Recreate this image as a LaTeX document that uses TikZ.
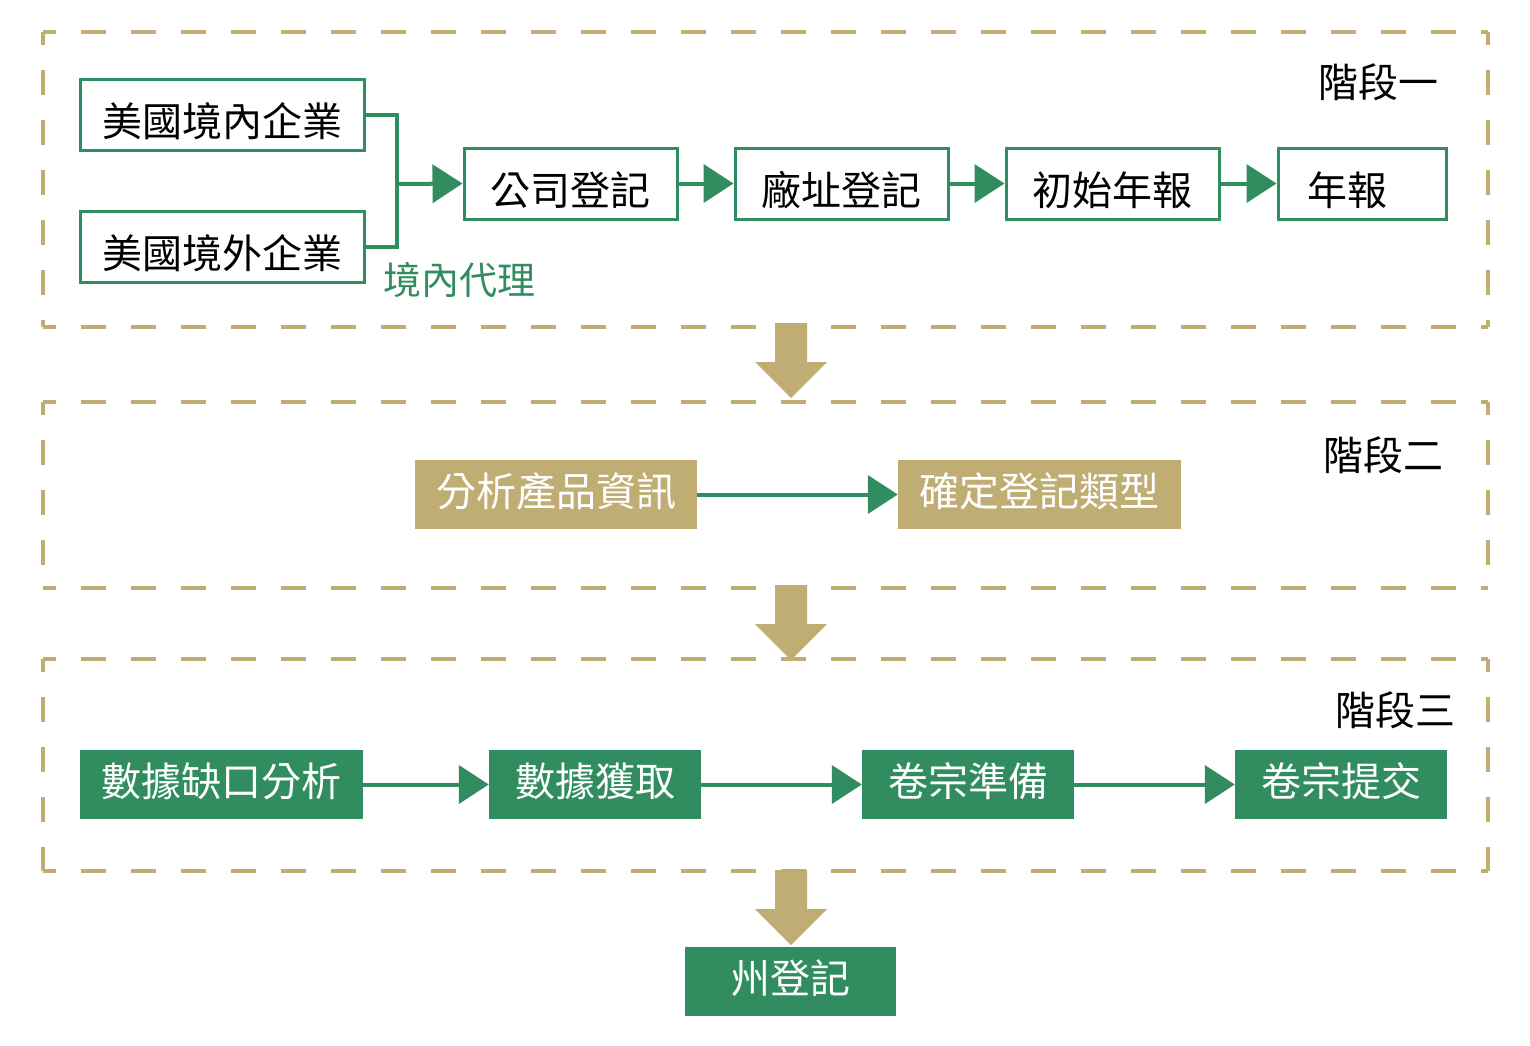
\documentclass[tikz,border=0pt]{standalone}
\usepackage{fontspec}
\setmainfont{Noto Sans CJK TC}
\usetikzlibrary{arrows.meta}
\definecolor{grn}{RGB}{49,141,95}
\definecolor{gold}{RGB}{191,173,116}
\newcommand{\lowtext}[1]{\raisebox{-7pt}[\height][\depth]{#1}}
\newcommand{\hightext}[1]{\raisebox{3pt}[\height][\depth]{#1}}
\begin{document}
\begin{tikzpicture}[x=1pt,y=-1pt,
  frameline/.style={gold, line width=4pt, dash pattern=on 25pt off 25pt, dash phase=12.5pt},
  txt/.style={font=\fontsize{40}{44}\selectfont},
  obox/.style={txt, draw=grn, line width=3pt, fill=white, inner sep=0pt, minimum height=71pt},
  gbox/.style={txt, fill=gold, text=white, inner sep=0pt, minimum height=69pt},
  fbox/.style={txt, fill=grn, text=white, inner sep=0pt, minimum height=69pt},
  conn/.style={grn, line width=4pt, -{Triangle[length=30pt,width=38pt]}},
  blockarrow/.style={fill=gold, draw=none},
  stagelbl/.style={txt}
]
\useasboundingbox (0,0) rectangle (1530,1045);
\fill[white] (0,0) rectangle (1530,1045);

% frames
\foreach \ya/\yb in {32/327, 402/588, 659/871}{
  \draw[frameline] (43,\ya) -- (1488,\ya);
  \draw[frameline] (43,\ya) -- (43,\yb);
  \draw[frameline] (1488,\ya) -- (1488,\yb);
  \draw[frameline] (43,\yb) -- (1488,\yb);
}

% stage labels
\node[stagelbl] (s1) at (1378,82) {階段一};
\node[stagelbl] (s2) at (1383,455) {階段二};
\node[stagelbl] (s3) at (1395,710) {階段三};

% stage 1
\node[obox, minimum width=284pt] (us1) at (222,114.5) {\lowtext{美國境內企業}};
\node[obox, minimum width=284pt] (us2) at (222,246.5) {\lowtext{美國境外企業}};
\node[obox, minimum width=213pt] (co) at (570.5,183.5) {\lowtext{公司登記}};
\node[obox, minimum width=213pt] (fa) at (841.5,183.5) {\lowtext{廠址登記}};
\node[obox, minimum width=213pt] (ia) at (1112.5,183.5) {\lowtext{初始年報}};
\node[obox, minimum width=168pt, text width=150pt, align=left] (ar) at (1362,183.5) {\hspace*{20pt}\lowtext{年報}};
\node[text=grn, anchor=west, inner sep=0pt, font=\fontsize{38}{42}\selectfont] (agent) at (383,280) {境內代理};
\coordinate (jn) at (397,184);
\draw[grn, line width=4pt] (us1.east) -| (jn) |- (us2.east);
\draw[conn] (jn) -- (co.west);
\draw[conn] (co) -- (fa);
\draw[conn] (fa) -- (ia);
\draw[conn] (ia) -- (ar);

% stage 2
\node[gbox, minimum width=282pt] (ap) at (556,494.5) {\hightext{分析產品資訊}};
\node[gbox, minimum width=283pt] (dt) at (1039.5,494.5) {\hightext{確定登記類型}};
\draw[conn] (ap) -- (dt);

% stage 3
\node[fbox, minimum width=283pt] (ga) at (221.5,784.5) {\hightext{數據缺口分析}};
\node[fbox, minimum width=212pt] (dg) at (595,784.5) {\hightext{數據獲取}};
\node[fbox, minimum width=212pt] (dp) at (968,784.5) {\hightext{卷宗準備}};
\node[fbox, minimum width=212pt] (ds) at (1341,784.5) {\hightext{卷宗提交}};
\draw[conn] (ga) -- (dg);
\draw[conn] (dg) -- (dp);
\draw[conn] (dp) -- (ds);

% state registration
\node[fbox, minimum width=211pt] (sr) at (790.5,981) {\hightext{州登記}};

% block arrows
\foreach \t in {323, 585, 870}{
  \fill[blockarrow] (775,\t) -- (807,\t) -- (807,\t+39) -- (827,\t+39) -- (791,\t+75) -- (755,\t+39) -- (775,\t+39) -- cycle;
}
\end{tikzpicture}
\end{document}
